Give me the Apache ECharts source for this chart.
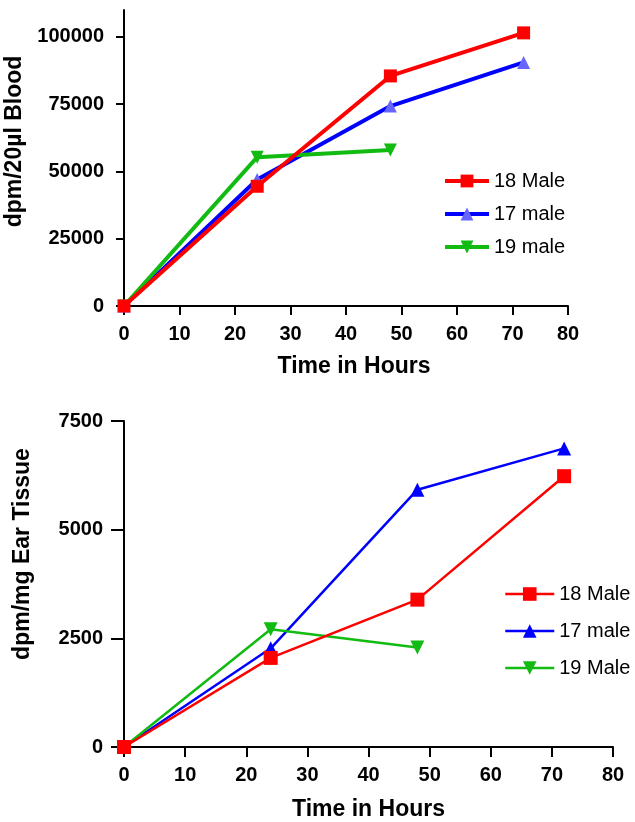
<!DOCTYPE html>
<html>
<head>
<meta charset="utf-8">
<script src="https://cdn.jsdelivr.net/npm/echarts@6/dist/echarts.min.js"></script>
<style>
  html, body { margin: 0; padding: 0; background: #fff; }
  #chart { width: 635px; height: 822px; }
</style>
</head>
<body>
<div id="chart"></div>
<script>
  // time points (hours)
  var hours = [0, 24, 48, 72];

  // top panel: dpm/20ul blood
  var blood18Male = [0, 44500, 85500, 101500];
  var blood17Male = [0, 47000, 74300, 90500];
  var blood19Male = [0, 55300, 58000];

  // bottom panel: dpm/mg ear tissue
  var ear18Male = [0, 2050, 3390, 6230];
  var ear17Male = [0, 2270, 5920, 6870];
  var ear19Male = [0, 2710, 2290];

  var bloodTicks = [0, 25000, 50000, 75000, 100000];
  var earTicks = [0, 2500, 5000, 7500];

  var FONT = '"Liberation Sans", Arial, Helvetica, sans-serif';

  function pairs(xs, ys) {
    return ys.map(function (v, i) { return [xs[i], v]; });
  }

  function plain(v) { return String(v); }

  function xAxisFor(gridIndex, gap, tickLen, shift) {
    return {
      type: 'value', gridIndex: gridIndex, min: 0, max: 80, interval: 10,
      name: 'Time in Hours', nameLocation: 'middle', nameGap: gap,
      nameTextStyle: { fontFamily: FONT, fontSize: 23, fontWeight: 'bold', color: '#000', padding: [0, 0, 0, shift] },
      axisLine: { show: true, onZero: false, lineStyle: { color: '#000', width: 2 } },
      axisTick: { show: true, length: tickLen, lineStyle: { color: '#000', width: 2 } },
      axisLabel: { margin: 18, formatter: plain, fontFamily: FONT, fontSize: 20, fontWeight: 'bold', color: '#000' },
      splitLine: { show: false }
    };
  }

  function yAxisFor(gridIndex, maxv, ticks, name, gap, shift, labelMargin, tickLen) {
    return {
      type: 'value', gridIndex: gridIndex, min: 0, max: maxv,
      name: name, nameLocation: 'middle', nameGap: gap,
      nameTextStyle: { fontFamily: FONT, fontSize: 23, fontWeight: 'bold', color: '#000', padding: [0, 0, 0, shift] },
      axisLine: { show: true, onZero: false, lineStyle: { color: '#000', width: 2 } },
      axisTick: { show: true, length: tickLen, customValues: ticks, lineStyle: { color: '#000', width: 2 } },
      axisLabel: { margin: labelMargin, customValues: ticks, formatter: plain, fontFamily: FONT, fontSize: 20, fontWeight: 'bold', color: '#000' },
      splitLine: { show: false }
    };
  }

  var RED = '#ff0000', BLUE = '#0000ff', GREEN = '#11bb11';

  function lineSeries(name, data, color, idx, width, symbol, size, markerColor, rotate, z) {
    return {
      name: name, type: 'line', xAxisIndex: idx, yAxisIndex: idx, z: z || 2,
      data: data, symbol: symbol, symbolSize: size, symbolRotate: rotate || 0,
      showAllSymbol: true, animation: false,
      lineStyle: { color: color, width: width },
      itemStyle: { color: markerColor || color }
    };
  }

  var chart = echarts.init(document.getElementById('chart'), null, { renderer: 'canvas' });

  chart.setOption({
    backgroundColor: '#fff',
    animation: false,
    grid: [
      { left: 124, top: 10, width: 444, height: 296, outerBoundsMode: 'none', containLabel: false },
      { left: 124, top: 421, width: 489, height: 326, outerBoundsMode: 'none', containLabel: false }
    ],
    xAxis: [xAxisFor(0, 49, 9, 16), xAxisFor(1, 51, 10, 0)],
    yAxis: [
      yAxisFor(0, 110000, bloodTicks, 'dpm/20µl Blood', 91, 33, 20, 8),
      yAxisFor(1, 7500, earTicks, 'dpm/mg Ear Tissue', 90, 60, 21, 13)
    ],
    legend: [
      {
        left: 438, top: 166, orient: 'vertical', itemWidth: 44, itemHeight: 16, itemGap: 13,
        lineStyle: { width: 4 },
        textStyle: { fontFamily: FONT, fontSize: 20, color: '#000' },
        data: ['18 Male', '17 male', '19 male']
      },
      {
        left: 499, top: 579, orient: 'vertical', itemWidth: 49, itemHeight: 17, itemGap: 17,
        lineStyle: { width: 2.5 },
        textStyle: { fontFamily: FONT, fontSize: 20, color: '#000' },
        data: ['18 Male ', '17 male ', '19 Male']
      }
    ],
    series: [
      lineSeries('18 Male', pairs(hours, blood18Male), RED, 0, 4, 'rect', 13, null, 0, 4),
      lineSeries('17 male', pairs(hours, blood17Male), BLUE, 0, 4, 'triangle', 13, '#6666ff'),
      lineSeries('19 male', pairs(hours, blood19Male), GREEN, 0, 4, 'triangle', 13, null, 180, 3),
      lineSeries('18 Male ', pairs(hours, ear18Male), RED, 1, 2.5, 'rect', 14, null, 0, 4),
      lineSeries('17 male ', pairs(hours, ear17Male), BLUE, 1, 2.5, 'triangle', 14),
      lineSeries('19 Male', pairs(hours, ear19Male), GREEN, 1, 2.5, 'triangle', 14, null, 180, 3)
    ]
  });
</script>
</body>
</html>
